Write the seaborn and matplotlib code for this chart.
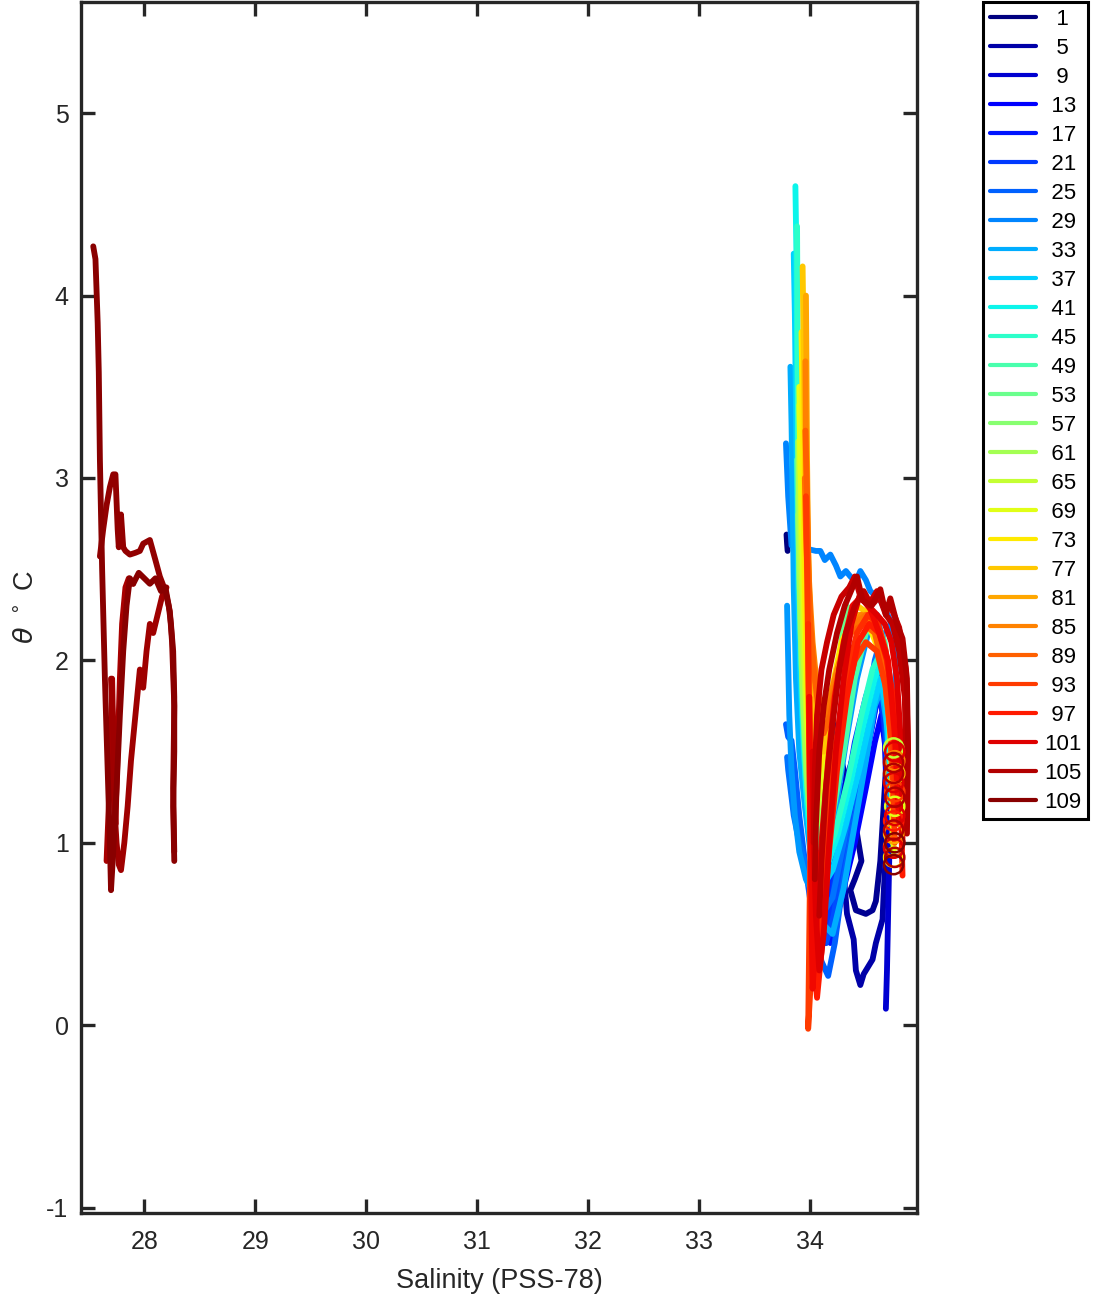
import numpy as np
import pandas as pd
import matplotlib
matplotlib.use("Agg")
import matplotlib.pyplot as plt
import seaborn as sns

# ---------------------------------------------------------------------------
# DATA  (theta-S profiles, cast number -> points)
# ---------------------------------------------------------------------------
N_CASTS = 110

s1 = [33.785, 33.79, 33.795]
t1 = [2.69, 2.64, 2.60]

s3 = [34.15, 34.30, 34.42, 34.46, 34.40, 34.36, 34.41, 34.50, 34.56, 34.59, 34.61, 34.63, 34.66, 34.70]
t3 = [1.80, 1.40, 1.05, 0.90, 0.80, 0.74, 0.63, 0.61, 0.63, 0.68, 0.79, 0.90, 1.20, 1.60]

s5 = [34.05, 34.15, 34.25, 34.29, 34.33, 34.39, 34.41, 34.45, 34.48, 34.56, 34.59, 34.65, 34.66, 34.68, 34.70]
t5 = [1.60, 1.30, 1.05, 0.90, 0.61, 0.47, 0.30, 0.22, 0.28, 0.36, 0.45, 0.58, 0.72, 0.95, 1.10]

s7 = [34.10, 34.18, 34.26, 34.34, 34.42, 34.50, 34.58, 34.64, 34.67, 34.69, 34.70]
t7 = [1.30, 1.10, 1.00, 1.05, 1.25, 1.50, 1.75, 1.90, 1.60, 1.20, 0.90]

s9 = [34.20, 34.35, 34.50, 34.60, 34.66, 34.70, 34.72, 34.71, 34.70, 34.69, 34.68]
t9 = [1.10, 1.40, 1.70, 1.85, 1.80, 1.50, 1.20, 0.90, 0.60, 0.30, 0.09]

s11 = [34.08, 34.12, 34.18, 34.26, 34.36, 34.46, 34.55, 34.62, 34.67, 34.69]
t11 = [0.90, 0.65, 0.55, 0.75, 1.05, 1.40, 1.70, 1.92, 1.70, 1.10]

s13 = [34.05, 34.10, 34.15, 34.22, 34.30, 34.40, 34.50, 34.58, 34.64, 34.68, 34.70]
t13 = [0.95, 0.70, 0.50, 0.55, 0.75, 1.00, 1.30, 1.55, 1.70, 1.50, 1.20]

s15 = [34.03, 34.06, 34.10, 34.16, 34.24, 34.34, 34.44, 34.54, 34.62, 34.68, 34.70]
t15 = [1.20, 0.90, 0.65, 0.50, 0.65, 0.95, 1.30, 1.60, 1.85, 1.75, 1.20]

s17 = [34.02, 34.05, 34.10, 34.18, 34.28, 34.38, 34.48, 34.56, 34.62, 34.67, 34.70]
t17 = [1.10, 0.80, 0.55, 0.45, 0.70, 1.05, 1.40, 1.65, 1.85, 1.60, 1.30]

s19 = [34.00, 34.02, 34.06, 34.12, 34.20, 34.30, 34.40, 34.50, 34.58, 34.65, 34.70]
t19 = [1.30, 1.00, 0.70, 0.55, 0.85, 1.20, 1.55, 1.80, 1.95, 1.80, 1.35]

s21 = [34.00, 34.04, 34.08, 34.14, 34.22, 34.32, 34.42, 34.52, 34.60, 34.66, 34.71]
t21 = [1.00, 0.75, 0.55, 0.45, 0.80, 1.10, 1.40, 1.70, 1.90, 1.70, 1.40]

s23 = [34.00, 34.03, 34.08, 34.14, 34.21, 34.30, 34.40, 34.50, 34.58, 34.65, 34.70, 34.72]
t23 = [0.95, 0.70, 0.50, 0.45, 0.60, 0.95, 1.35, 1.70, 1.95, 2.00, 1.70, 1.20]

s25 = [33.78, 33.80, 33.83, 33.86, 33.90, 33.96, 34.03, 34.10, 34.16, 34.22, 34.30, 34.40, 34.50, 34.58, 34.64, 34.68, 34.70]
t25 = [1.65, 1.58, 1.56, 1.40, 1.15, 0.85, 0.55, 0.35, 0.27, 0.45, 0.80, 1.15, 1.50, 1.80, 1.95, 1.70, 1.30]

s27 = [33.79, 33.80, 33.82, 33.85, 33.90, 33.97, 34.05, 34.12, 34.20, 34.30, 34.40, 34.50, 34.58, 34.65, 34.70, 34.72]
t27 = [1.47, 1.40, 1.30, 1.15, 1.00, 0.85, 0.70, 0.62, 0.70, 1.00, 1.35, 1.70, 2.00, 2.15, 1.85, 1.40]

s29 = [33.78, 33.80, 33.83, 33.90, 33.98, 34.05, 34.09, 34.13, 34.18, 34.23, 34.27, 34.32, 34.36, 34.41, 34.45, 34.50, 34.54, 34.63, 34.72, 34.77, 34.76]
t29 = [3.19, 2.90, 2.63, 2.60, 2.61, 2.60, 2.60, 2.55, 2.58, 2.52, 2.46, 2.49, 2.46, 2.43, 2.49, 2.44, 2.38, 2.33, 2.22, 2.00, 1.50]

s31 = [33.79, 33.80, 33.81, 33.83, 33.86, 33.90, 33.96, 34.04, 34.12, 34.22, 34.32, 34.42, 34.52, 34.60, 34.67, 34.71]
t31 = [2.30, 2.00, 1.70, 1.40, 1.15, 0.95, 0.80, 0.70, 0.85, 1.15, 1.55, 1.90, 2.15, 2.25, 2.05, 1.50]

s33 = [33.82, 33.83, 33.84, 33.85, 33.87, 33.90, 33.95, 34.00, 34.05, 34.12, 34.20, 34.30, 34.40, 34.50, 34.58, 34.64, 34.70, 34.72]
t33 = [3.61, 3.30, 2.90, 2.40, 1.90, 1.50, 1.20, 0.95, 0.75, 0.55, 0.50, 0.75, 1.10, 1.45, 1.75, 1.85, 1.60, 1.20]

s37 = [33.85, 33.86, 33.87, 33.88, 33.89, 33.91, 33.94, 33.98, 34.03, 34.10, 34.20, 34.32, 34.44, 34.55, 34.63, 34.68, 34.72]
t37 = [4.23, 3.90, 3.40, 2.90, 2.40, 1.90, 1.50, 1.15, 0.90, 0.75, 0.85, 1.10, 1.40, 1.70, 1.90, 1.75, 1.35]

s41 = [33.865, 33.875, 33.88, 33.89, 33.90, 33.91, 33.93, 33.96, 34.00, 34.06, 34.14, 34.25, 34.37, 34.48, 34.58, 34.65, 34.70, 34.72]
t41 = [4.60, 4.20, 3.70, 3.20, 2.70, 2.20, 1.70, 1.30, 1.00, 0.80, 0.85, 1.05, 1.35, 1.65, 1.90, 2.00, 1.75, 1.40]

s45 = [33.88, 33.885, 33.89, 33.90, 33.92, 33.95, 33.99, 34.04, 34.12, 34.22, 34.34, 34.46, 34.56, 34.64, 34.70, 34.73]
t45 = [4.38, 3.80, 3.00, 2.50, 2.00, 1.50, 1.15, 0.95, 0.90, 1.05, 1.35, 1.70, 1.95, 2.05, 1.80, 1.40]

s49 = [33.88, 33.89, 33.90, 33.92, 33.95, 33.99, 34.05, 34.12, 34.20, 34.30, 34.40, 34.50, 34.60, 34.67, 34.72, 34.74]
t49 = [3.10, 2.80, 2.40, 2.00, 1.60, 1.25, 1.00, 0.95, 1.15, 1.50, 1.90, 2.15, 2.20, 2.10, 1.80, 1.40]

s53 = [33.89, 33.90, 33.91, 33.93, 33.96, 34.00, 34.06, 34.14, 34.22, 34.32, 34.42, 34.52, 34.60, 34.67, 34.72, 34.74]
t53 = [2.90, 2.60, 2.20, 1.80, 1.40, 1.10, 1.00, 1.30, 1.80, 2.30, 2.25, 2.20, 2.15, 2.05, 1.80, 1.40]

s57 = [33.89, 33.90, 33.92, 33.94, 33.97, 34.01, 34.08, 34.16, 34.25, 34.35, 34.45, 34.55, 34.63, 34.69, 34.73, 34.74]
t57 = [2.80, 2.50, 2.10, 1.70, 1.35, 1.10, 1.20, 1.60, 2.00, 2.20, 2.25, 2.20, 2.10, 1.90, 1.60, 1.00]

s61 = [33.89, 33.90, 33.91, 33.93, 33.96, 34.00, 34.06, 34.14, 34.24, 34.36, 34.48, 34.58, 34.66, 34.71, 34.74]
t61 = [3.20, 2.80, 2.30, 1.90, 1.50, 1.15, 1.10, 1.50, 1.95, 2.20, 2.20, 2.15, 2.00, 1.75, 1.30]

s65 = [33.90, 33.91, 33.92, 33.94, 33.97, 34.01, 34.07, 34.15, 34.26, 34.38, 34.50, 34.60, 34.67, 34.72, 34.75]
t65 = [3.40, 3.00, 2.50, 2.00, 1.60, 1.25, 1.20, 1.60, 2.00, 2.20, 2.25, 2.15, 2.00, 1.70, 1.20]

s69 = [33.90, 33.91, 33.93, 33.95, 33.97, 34.00, 34.05, 34.12, 34.22, 34.34, 34.46, 34.57, 34.65, 34.71, 34.74, 34.75]
t69 = [3.50, 3.10, 2.60, 2.10, 1.70, 1.35, 1.20, 1.40, 1.85, 2.15, 2.25, 2.20, 2.05, 1.80, 1.40, 0.95]

s73 = [33.92, 33.93, 33.94, 33.95, 33.97, 34.00, 34.04, 34.10, 34.18, 34.28, 34.40, 34.52, 34.62, 34.69, 34.73, 34.75]
t73 = [3.80, 3.40, 2.90, 2.40, 1.90, 1.50, 1.30, 1.45, 1.80, 2.10, 2.25, 2.20, 2.05, 1.85, 1.50, 1.00]

s77 = [33.93, 33.94, 33.95, 33.96, 33.98, 34.01, 34.05, 34.12, 34.20, 34.30, 34.42, 34.54, 34.63, 34.70, 34.74, 34.75]
t77 = [4.16, 3.70, 3.20, 2.70, 2.20, 1.80, 1.50, 1.50, 1.80, 2.10, 2.30, 2.25, 2.10, 1.85, 1.50, 1.10]

s81 = [33.96, 33.965, 33.97, 33.98, 34.00, 34.03, 34.07, 34.13, 34.21, 34.32, 34.44, 34.55, 34.64, 34.70, 34.74, 34.76]
t81 = [4.00, 3.60, 3.10, 2.60, 2.20, 1.90, 1.70, 1.65, 1.85, 2.10, 2.25, 2.25, 2.10, 1.90, 1.55, 1.15]

s85 = [33.955, 33.96, 33.97, 33.99, 34.02, 34.06, 34.10, 34.16, 34.24, 34.34, 34.46, 34.57, 34.66, 34.72, 34.76]
t85 = [3.64, 3.20, 2.80, 2.40, 2.10, 1.85, 1.70, 1.75, 1.95, 2.15, 2.25, 2.20, 2.05, 1.75, 1.30]

s87 = [33.95, 33.96, 33.98, 34.00, 34.04, 34.09, 34.15, 34.22, 34.30, 34.40, 34.50, 34.60, 34.68, 34.74, 34.77]
t87 = [3.00, 2.70, 2.40, 2.10, 1.90, 1.75, 1.70, 1.85, 2.05, 2.20, 2.25, 2.15, 1.95, 1.60, 1.15]

s89 = [33.955, 33.97, 33.98, 34.00, 34.03, 34.07, 34.12, 34.18, 34.26, 34.36, 34.48, 34.58, 34.66, 34.72, 34.76]
t89 = [3.26, 2.90, 2.50, 2.20, 1.95, 1.75, 1.60, 1.70, 1.95, 2.15, 2.20, 2.15, 1.95, 1.60, 1.10]

s93 = [33.96, 33.97, 33.98, 33.99, 34.00, 33.99, 33.98, 34.00, 34.05, 34.12, 34.20, 34.30, 34.40, 34.50, 34.60, 34.68, 34.74, 34.76]
t93 = [2.90, 2.50, 2.00, 1.50, 1.00, 0.50, -0.02, 0.20, 0.60, 1.00, 1.40, 1.75, 2.00, 2.10, 2.05, 1.85, 1.50, 1.00]

s95 = [33.98, 33.99, 34.00, 34.02, 34.05, 34.09, 34.15, 34.23, 34.32, 34.42, 34.52, 34.61, 34.68, 34.74, 34.78]
t95 = [2.20, 1.60, 1.00, 0.50, 0.30, 0.65, 1.10, 1.55, 1.90, 2.15, 2.25, 2.20, 2.05, 1.75, 1.20]

s97 = [33.99, 34.00, 34.01, 34.03, 34.06, 34.10, 34.16, 34.24, 34.33, 34.43, 34.53, 34.62, 34.69, 34.76, 34.81, 34.83]
t97 = [1.80, 1.30, 0.80, 0.35, 0.15, 0.40, 0.90, 1.40, 1.80, 2.10, 2.20, 2.15, 2.00, 1.75, 1.35, 0.82]

s99 = [33.99, 34.00, 34.01, 34.02, 34.05, 34.10, 34.16, 34.22, 34.30, 34.38, 34.46, 34.54, 34.62, 34.70, 34.76, 34.80]
t99 = [1.80, 1.20, 0.60, 0.20, 0.50, 1.00, 1.45, 1.80, 2.10, 2.30, 2.35, 2.28, 2.15, 2.00, 1.60, 1.10]

s101 = [34.02, 34.03, 34.05, 34.08, 34.12, 34.17, 34.23, 34.30, 34.37, 34.44, 34.52, 34.60, 34.67, 34.73, 34.78, 34.82, 34.83]
t101 = [1.50, 1.00, 0.60, 0.30, 0.50, 1.00, 1.50, 1.90, 2.20, 2.35, 2.30, 2.25, 2.20, 2.10, 1.90, 1.50, 1.00]

s103 = [34.03, 34.04, 34.06, 34.10, 34.15, 34.21, 34.28, 34.35, 34.40, 34.45, 34.52, 34.60, 34.66, 34.72, 34.80, 34.86, 34.88]
t103 = [1.00, 1.40, 1.70, 1.95, 2.10, 2.25, 2.35, 2.40, 2.46, 2.35, 2.30, 2.38, 2.30, 2.30, 2.18, 1.95, 1.50]

s104 = [34.08, 34.10, 34.14, 34.20, 34.26, 34.32, 34.40, 34.48, 34.55, 34.62, 34.68, 34.74, 34.80, 34.85, 34.87]
t104 = [0.60, 0.90, 1.30, 1.65, 1.95, 2.15, 2.30, 2.38, 2.30, 2.35, 2.25, 2.20, 2.05, 1.80, 1.30]

s105 = [34.04, 34.05, 34.08, 34.12, 34.17, 34.24, 34.31, 34.38, 34.42, 34.47, 34.55, 34.63, 34.68, 34.72, 34.78, 34.83, 34.87, 34.88, 34.87]
t105 = [0.80, 1.10, 1.50, 1.75, 1.95, 2.15, 2.30, 2.40, 2.46, 2.33, 2.30, 2.39, 2.25, 2.34, 2.20, 2.12, 1.90, 1.50, 1.05]

# the fresh group on the left (casts 106-109)
s106 = [27.66, 27.68, 27.70, 27.71, 27.72, 27.74, 27.76, 27.78, 27.80, 27.83, 27.86, 27.90]
t106 = [0.90, 1.20, 1.50, 1.90, 1.60, 1.10, 1.50, 1.90, 2.20, 2.40, 2.45, 2.42]

s107 = [27.70, 27.72, 27.73, 27.75, 27.77, 27.79, 27.80, 27.82, 27.85, 27.88, 27.92, 27.96, 27.99, 28.02, 28.05, 28.08, 28.12, 28.16, 28.20]
t107 = [1.90, 1.60, 1.20, 1.00, 0.88, 0.85, 0.90, 1.00, 1.20, 1.45, 1.70, 1.95, 1.85, 2.05, 2.20, 2.15, 2.25, 2.35, 2.40]

s108 = [27.60, 27.63, 27.66, 27.69, 27.72, 27.74, 27.76, 27.77, 27.79, 27.81, 27.83, 27.87, 27.92, 27.96, 27.99, 28.05, 28.10, 28.14, 28.19, 28.23, 28.25, 28.27, 28.26, 28.27]
t108 = [2.57, 2.72, 2.85, 2.95, 3.02, 3.02, 2.72, 2.62, 2.80, 2.62, 2.60, 2.58, 2.59, 2.60, 2.64, 2.66, 2.55, 2.46, 2.38, 2.27, 2.10, 1.75, 1.30, 0.95]

s109 = [27.54, 27.56, 27.58, 27.59, 27.60, 27.62, 27.645, 27.67, 27.69, 27.70, 27.72, 27.75, 27.78, 27.81, 27.84, 27.87, 27.90, 27.95, 28.00, 28.05, 28.10, 28.15, 28.19, 28.22, 28.24, 28.26, 28.27, 28.27, 28.26, 28.27]
t109 = [4.27, 4.20, 3.85, 3.58, 3.10, 2.50, 1.90, 1.40, 1.00, 0.74, 0.95, 1.30, 1.70, 2.05, 2.30, 2.45, 2.42, 2.48, 2.45, 2.42, 2.45, 2.38, 2.40, 2.30, 2.20, 2.05, 1.80, 1.50, 1.20, 0.90]

# bottle stops marked with open circles near the deepest samples
circ_id = [65, 69, 73, 77, 81, 85, 89, 93, 97, 101, 101, 101, 101, 105, 105, 105, 105, 105, 109, 109]
circ_s = [34.75, 34.76, 34.75, 34.76, 34.75, 34.76, 34.75, 34.76, 34.75, 34.76, 34.75, 34.76, 34.75, 34.75, 34.76, 34.75, 34.76, 34.75, 34.76, 34.75]
circ_t = [1.52, 1.20, 0.92, 1.38, 1.05, 1.45, 0.98, 1.28, 1.12, 1.50, 1.33, 1.15, 0.97, 1.44, 1.25, 1.07, 0.92, 1.38, 1.00, 0.88]

legend_ids = list(range(1, 110, 4))

# ---------------------------------------------------------------------------
# SUSUN DATAFRAME
# ---------------------------------------------------------------------------
profiles = {
    1: (s1, t1), 3: (s3, t3), 5: (s5, t5), 7: (s7, t7), 9: (s9, t9),
    11: (s11, t11), 13: (s13, t13), 15: (s15, t15), 17: (s17, t17),
    19: (s19, t19), 21: (s21, t21), 23: (s23, t23), 25: (s25, t25),
    27: (s27, t27), 29: (s29, t29), 31: (s31, t31), 33: (s33, t33),
    37: (s37, t37), 41: (s41, t41), 45: (s45, t45), 49: (s49, t49),
    53: (s53, t53), 57: (s57, t57), 61: (s61, t61), 65: (s65, t65),
    69: (s69, t69), 73: (s73, t73), 77: (s77, t77), 81: (s81, t81),
    85: (s85, t85), 87: (s87, t87), 89: (s89, t89), 93: (s93, t93),
    95: (s95, t95), 97: (s97, t97), 99: (s99, t99), 101: (s101, t101),
    103: (s103, t103), 104: (s104, t104), 105: (s105, t105),
    106: (s106, t106), 107: (s107, t107), 108: (s108, t108),
    109: (s109, t109),
}

rows = []
for cid, (ss, tt) in profiles.items():
    for k, (s, t) in enumerate(zip(ss, tt)):
        rows.append({"cast": cid, "order": k, "S": s, "T": t})
df = pd.DataFrame(rows)

jet = plt.get_cmap("jet")
palette = {cid: jet((cid - 1) / (N_CASTS - 1)) for cid in range(1, N_CASTS + 1)}
cast_order = sorted(profiles.keys())

circ_df = pd.DataFrame({"cast": circ_id, "S": circ_s, "T": circ_t})

# ---------------------------------------------------------------------------
# PLOT
# ---------------------------------------------------------------------------
sns.set_style("white")
plt.rcParams["font.family"] = ["Liberation Sans", "DejaVu Sans"]
plt.rcParams["axes.unicode_minus"] = False
ink = "#262626"

fig = plt.figure(figsize=(10.95, 12.95), dpi=100)
ax = fig.add_axes([0.074, 0.0633, 0.7634, 0.9352])

sns.lineplot(data=df, x="S", y="T", hue="cast", hue_order=cast_order,
             palette={c: palette[c] for c in cast_order}, sort=False,
             estimator=None, legend=False, linewidth=4.2, ax=ax,
             solid_joinstyle="round", solid_capstyle="round")

sns.scatterplot(data=circ_df, x="S", y="T", hue="cast",
                palette={c: palette[c] for c in set(circ_id)},
                s=190, legend=False, ax=ax, linewidth=1.8, zorder=4)
pts = ax.collections[-1]
pts.set_edgecolors(pts.get_facecolors())
pts.set_facecolors("none")

ax.set_xlim(27.43, 34.96)
ax.set_ylim(-1.03, 5.61)
ax.set_xticks([28, 29, 30, 31, 32, 33, 34])
ax.set_yticks([-1, 0, 1, 2, 3, 4, 5])
ax.tick_params(direction="in", length=10, width=2.4, top=True, right=True,
               bottom=True, left=True, labelsize=18, colors=ink)
ax.tick_params(axis="x", pad=12)
ax.tick_params(axis="y", pad=9)
for sp in ax.spines.values():
    sp.set_linewidth(2.4)
    sp.set_color(ink)
ax.set_xlabel("Salinity (PSS-78)", fontsize=19.5, color=ink, labelpad=10)
ax.set_ylabel(r"$\theta\ ^\circ$ C", fontsize=19.5, color=ink, labelpad=5)

line_of = dict(zip(cast_order, ax.get_lines()))
handles = [line_of[c] for c in legend_ids]


def pad_label(n):
    s = str(n)
    if len(s) == 1:
        return "\u2007" + s
    if len(s) == 2:
        return "\u2004" + s
    return s


leg = fig.legend(handles, [pad_label(c) for c in legend_ids],
                 loc="upper left", bbox_to_anchor=(0.8977, 0.9985),
                 fontsize=16, frameon=True, fancybox=False, framealpha=1,
                 edgecolor="black", handlelength=2.1, handletextpad=0.35,
                 labelspacing=0.36, borderpad=0.3, borderaxespad=0)
leg.get_frame().set_linewidth(2.2)
for t in leg.get_texts():
    t.set_color("black")
for h in leg.legend_handles:
    h.set_linewidth(3.0)

fig.savefig("out.png", dpi=100)
